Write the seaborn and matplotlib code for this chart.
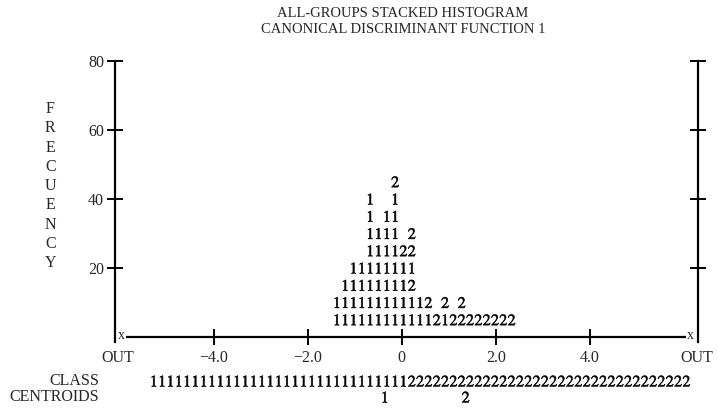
import numpy as np
import pandas as pd
import matplotlib
matplotlib.use("Agg")
import matplotlib.pyplot as plt
import seaborn as sns

# Stacked histogram, text style: one symbol = 5 cases
bin_width = 0.177
first_bin = -1.38          # score of the first symbol column
row_levels = [5, 10, 15, 20, 25, 30, 35, 40, 45]
row_symbols = [
    "1111111111112122222222",
    "111111111112 2 2",
    " 111111112",
    "  11111111",
    "    111122",
    "    1111 2",
    "    1 11",
    "    1  1",
    "       2",
]

# territorial row under the axis
class_first_col = -22
class_row = "1111111111111111111111111111111" + "2222222222222222222222222222222222"

centroid_groups = ["1", "2"]
centroid_scores = [-0.36, 1.36]

x_ticks = [-4, -2, 0, 2, 4]
x_tick_labels = ["\u22124.0", "\u22122.0", "0", "2.0", "4.0"]
out_scores = [-6.04, 6.28]
y_ticks = [20, 40, 60, 80]

# build long tables
recs = []
for level, row in zip(row_levels, row_symbols):
    for col, ch in enumerate(row):
        if ch != " ":
            recs.append((first_bin + col * bin_width, level, ch))
hist = pd.DataFrame(recs, columns=["score", "freq", "group"])

class_df = pd.DataFrame({
    "score": [first_bin + (class_first_col + i) * bin_width for i in range(len(class_row))],
    "freq": -12.75,
    "group": list(class_row),
})
cent_df = pd.DataFrame({"score": centroid_scores, "freq": -17.4, "group": centroid_groups})

sns.set_theme(style="white")
plt.rcParams["font.family"] = ["Liberation Serif", "DejaVu Serif"]
plt.rcParams["mathtext.fontset"] = "stix"

fig = plt.figure(figsize=(7.18, 4.08), dpi=100)
ax = fig.add_axes([115 / 718, 71 / 408, 583 / 718, 276 / 408])

marks = {"1": "$1$", "2": "$2$"}
for df in [hist, class_df, cent_df]:
    sns.scatterplot(data=df, x="score", y="freq", style="group", markers=marks,
                    color="black", s=60, linewidth=0.4, edgecolor="black",
                    legend=False, ax=ax)
    ax.collections[-1].set_clip_on(False)

ax.set_xlim(-6.1, 6.3)
ax.set_ylim(0, 80)

# axis frame
for side in ["top", "bottom"]:
    ax.spines[side].set_visible(False)
for side in ["left", "right"]:
    ax.spines[side].set_color("black")
    ax.spines[side].set_linewidth(1.6)
    ax.spines[side].set_bounds(-1.5, 80)
ax.hlines(0, -5.86, 6.04, color="black", lw=1.6, clip_on=False)
for xs in [-5.97, 6.13]:
    ax.text(xs, 0.3, "x", ha="center", va="center", fontsize=10, clip_on=False)

ax.set_yticks(y_ticks)
ax.set_yticklabels([str(v) for v in y_ticks], fontsize=11.5)
ax.tick_params(axis="y", direction="inout", length=12, width=1.4, color="black",
               left=True, right=True, labelright=False, pad=2)

ax.set_xticks(x_ticks)
ax.set_xticklabels(x_tick_labels, fontsize=11.5)
ax.set_xticks(out_scores, minor=True)
ax.set_xticklabels(["OUT", "OUT"], minor=True, fontsize=11.5)
ax.tick_params(axis="x", which="major", direction="inout", length=12, width=1.4,
               color="black", bottom=True, pad=3)
ax.tick_params(axis="x", which="minor", length=0, bottom=True, pad=9)
ax.set_xlabel("")

ax.set_ylabel("\n".join("FRECUENCY"), rotation=0, fontsize=11.5, linespacing=1.27,
              ha="center", va="center")
ax.yaxis.set_label_coords(-0.111, 0.547)

fig.text(403 / 718, 1 - 7 / 408,
         "ALL-GROUPS STACKED HISTOGRAM\nCANONICAL DISCRIMINANT FUNCTION 1",
         ha="center", va="top", fontsize=10.5, linespacing=1.3)
fig.text(99 / 718, 1 - 381 / 408, "CLASS", ha="right", va="center", fontsize=11.5)
fig.text(99 / 718, 1 - 397 / 408, "CENTROIDS", ha="right", va="center", fontsize=11.5)

fig.savefig("out.png", dpi=100)
